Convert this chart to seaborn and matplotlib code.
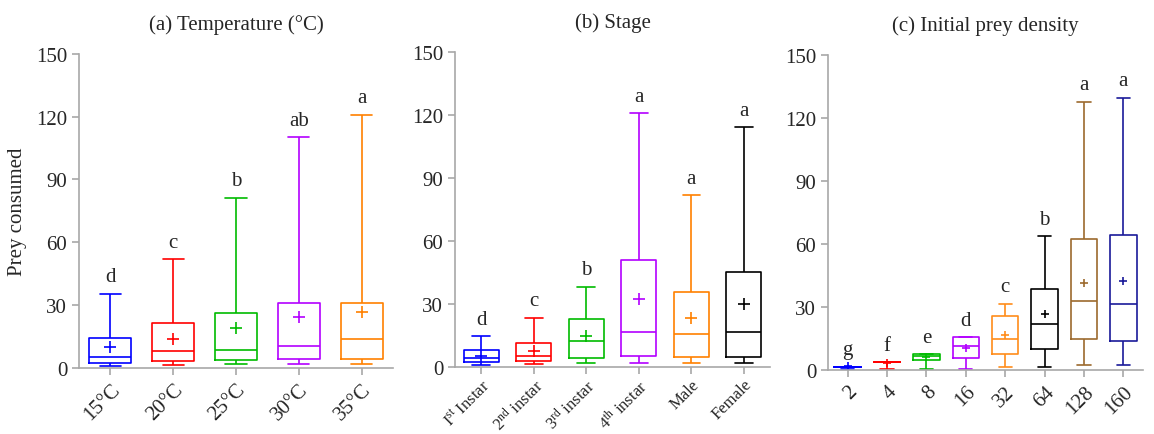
import numpy as np
import pandas as pd
import matplotlib
matplotlib.use("Agg")
import matplotlib.pyplot as plt
import seaborn as sns

# five-number summaries: [min, q1, median, q3, max]
temp_cats = ["15°C", "20°C", "25°C", "30°C", "35°C"]
temp_stats = [
    [0.8, 2.4, 5.2, 14.3, 35.5],
    [1.4, 3.3, 8.0, 21.6, 52.0],
    [1.7, 4.0, 8.6, 26.2, 81.3],
    [1.9, 4.3, 10.3, 31.0, 110.2],
    [1.9, 4.3, 13.8, 31.0, 121.0],
]
temp_means = [10.0, 13.8, 18.9, 24.2, 26.7]
temp_letters = ["d", "c", "b", "ab", "a"]
temp_colors = ["#0000ff", "#ff0000", "#00bb00", "#b300ff", "#ff8000"]

stage_cats = [r"I$^{\rm st}$ Instar", r"2$^{\rm nd}$ instar", r"3$^{\rm rd}$ instar",
              r"4$^{\rm th}$ instar", "Male", "Female"]
stage_stats = [
    [1.0, 2.2, 4.4, 7.9, 14.6],
    [1.6, 2.9, 5.1, 11.4, 23.5],
    [2.1, 4.3, 12.2, 23.0, 38.3],
    [2.1, 5.1, 16.8, 51.1, 121.0],
    [2.1, 4.8, 15.9, 35.7, 81.9],
    [2.1, 4.9, 16.7, 45.2, 114.1],
]
stage_means = [5.2, 7.8, 14.9, 32.2, 23.3, 30.2]
stage_letters = ["d", "c", "b", "a", "a", "a"]
stage_colors = ["#0000ff", "#ff0000", "#00bb00", "#b300ff", "#ff8000", "#000000"]

dens_cats = ["2", "4", "8", "16", "32", "64", "128", "160"]
dens_stats = [
    [0.6, 1.6, 1.6, 1.6, 1.6],
    [0.6, 3.7, 3.7, 3.7, 3.7],
    [0.6, 4.8, 6.8, 7.6, 7.6],
    [0.6, 5.7, 11.6, 15.6, 15.6],
    [1.6, 7.6, 14.8, 25.6, 31.6],
    [1.6, 9.9, 21.8, 38.6, 63.7],
    [2.5, 14.6, 32.7, 62.6, 127.8],
    [2.5, 13.7, 31.6, 64.5, 129.7],
]
dens_means = [1.8, 3.3, 6.2, 10.6, 16.8, 26.7, 41.5, 42.3]
dens_letters = ["g", "f", "e", "d", "c", "b", "a", "a"]
dens_colors = ["#0000ff", "#ff0000", "#00bb00", "#b300ff", "#ff8c1a", "#000000",
               "#9c6a2e", "#1a1a99"]

sns.set_style("ticks")
plt.rcParams["font.family"] = ["Liberation Serif", "DejaVu Sans"]
plt.rcParams["mathtext.fontset"] = "custom"
plt.rcParams["mathtext.rm"] = "Liberation Serif"
plt.rcParams["mathtext.it"] = "Liberation Serif:italic"

GREY = "#a8a8a8"
FS = 15


def panel(ax, cats, stats, means, letters, colors, title, msize, xfs=FS, xpad=3.5):
    df = pd.DataFrame({
        "group": np.repeat(cats, 5),
        "value": np.concatenate(stats),
    })
    sns.boxplot(data=df, x="group", y="value", hue="group", order=cats,
                hue_order=cats, palette=colors, fill=False, whis=(0, 100),
                width=0.67, linewidth=1.2, showfliers=False, legend=False, ax=ax)
    sns.pointplot(x=cats, y=means, hue=cats, order=cats, hue_order=cats,
                  palette=colors, markers="+", linestyle="none", errorbar=None,
                  legend=False, markersize=msize, markeredgewidth=1.2, ax=ax)
    for i, (s, lab) in enumerate(zip(stats, letters)):
        ax.text(i, max(s) + 8, lab, ha="center", va="center", fontsize=FS)
    ax.set_ylim(0, 150)
    ax.set_xlim(-0.5, len(cats) - 0.5)
    ax.set_yticks([0, 30, 60, 90, 120, 150])
    ax.set_xlabel("")
    ax.set_ylabel("")
    ax.set_title(title, fontsize=FS, pad=18)
    ax.set_xticks(range(len(cats)))
    ax.set_xticklabels(cats, rotation=45, ha="right", rotation_mode="anchor",
                       fontsize=xfs)
    ax.tick_params(axis="y", labelsize=FS)
    ax.tick_params(axis="x", pad=xpad)
    ax.tick_params(color=GREY, length=5, width=1.2)
    sns.despine(ax=ax)
    for sp in ("left", "bottom"):
        ax.spines[sp].set_color(GREY)
        ax.spines[sp].set_linewidth(1.2)


fig = plt.figure(figsize=(11.54, 4.35), dpi=100)
ax1 = fig.add_axes([0.0685, 0.152, 0.272, 0.722])
ax2 = fig.add_axes([0.3943, 0.154, 0.273, 0.724])
ax3 = fig.add_axes([0.7175, 0.147, 0.273, 0.724])

panel(ax1, temp_cats, temp_stats, temp_means, temp_letters, temp_colors,
      "(a) Temperature (°C)", 9)
panel(ax2, stage_cats, stage_stats, stage_means, stage_letters, stage_colors,
      "(b) Stage", 8, xfs=12, xpad=1.5)
panel(ax3, dens_cats, dens_stats, dens_means, dens_letters, dens_colors,
      "(c) Initial prey density", 6)
ax1.set_ylabel("Prey consumed", fontsize=FS)
ax1.yaxis.set_label_coords(-0.165, 0.5)

fig.savefig("out.png", dpi=100)
